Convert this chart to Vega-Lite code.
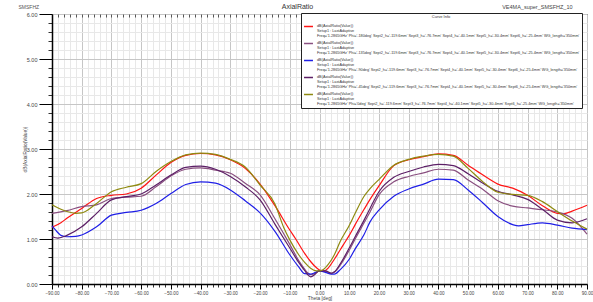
{
  "$schema": "https://vega.github.io/schema/vega-lite/v6.json",
  "width": 535,
  "height": 270,
  "autosize": {"type": "none"},
  "padding": {"left": 52, "top": 14, "right": 6, "bottom": 18},
  "background": "white",
  "config": {
    "view": {"stroke": "#000", "strokeWidth": 1},
    "font": "Liberation Sans",
    "axis": {"labelFont": "Liberation Sans", "titleFont": "Liberation Sans", "titleFontWeight": "normal", "labelColor": "#444", "titleColor": "#444", "tickColor": "#222", "domainColor": "#000"}
  },
  "data": {"values": [
    {"theta": -90, "ar": 1.26, "phi": "-180deg"}, {"theta": -87, "ar": 1.36, "phi": "-180deg"}, {"theta": -85, "ar": 1.46, "phi": "-180deg"}, {"theta": -80, "ar": 1.68, "phi": "-180deg"}, {"theta": -75, "ar": 1.9, "phi": "-180deg"}, {"theta": -70, "ar": 1.97, "phi": "-180deg"}, {"theta": -65, "ar": 2.0, "phi": "-180deg"}, {"theta": -60, "ar": 2.13, "phi": "-180deg"}, {"theta": -55, "ar": 2.42, "phi": "-180deg"}, {"theta": -50, "ar": 2.7, "phi": "-180deg"}, {"theta": -45, "ar": 2.86, "phi": "-180deg"}, {"theta": -40, "ar": 2.9, "phi": "-180deg"}, {"theta": -35, "ar": 2.87, "phi": "-180deg"}, {"theta": -30, "ar": 2.76, "phi": "-180deg"}, {"theta": -25, "ar": 2.57, "phi": "-180deg"}, {"theta": -20, "ar": 2.22, "phi": "-180deg"}, {"theta": -15, "ar": 1.74, "phi": "-180deg"}, {"theta": -10, "ar": 1.2, "phi": "-180deg"}, {"theta": -8, "ar": 1.0, "phi": "-180deg"}, {"theta": -5, "ar": 0.68, "phi": "-180deg"}, {"theta": -3, "ar": 0.5, "phi": "-180deg"}, {"theta": -1, "ar": 0.36, "phi": "-180deg"}, {"theta": 0, "ar": 0.31, "phi": "-180deg"}, {"theta": 1, "ar": 0.29, "phi": "-180deg"}, {"theta": 2, "ar": 0.3, "phi": "-180deg"}, {"theta": 3, "ar": 0.36, "phi": "-180deg"}, {"theta": 5, "ar": 0.55, "phi": "-180deg"}, {"theta": 8, "ar": 0.87, "phi": "-180deg"}, {"theta": 10, "ar": 1.08, "phi": "-180deg"}, {"theta": 12, "ar": 1.32, "phi": "-180deg"}, {"theta": 15, "ar": 1.66, "phi": "-180deg"}, {"theta": 17, "ar": 1.88, "phi": "-180deg"}, {"theta": 20, "ar": 2.18, "phi": "-180deg"}, {"theta": 25, "ar": 2.63, "phi": "-180deg"}, {"theta": 30, "ar": 2.76, "phi": "-180deg"}, {"theta": 35, "ar": 2.83, "phi": "-180deg"}, {"theta": 40, "ar": 2.89, "phi": "-180deg"}, {"theta": 45, "ar": 2.86, "phi": "-180deg"}, {"theta": 50, "ar": 2.64, "phi": "-180deg"}, {"theta": 55, "ar": 2.42, "phi": "-180deg"}, {"theta": 60, "ar": 2.22, "phi": "-180deg"}, {"theta": 65, "ar": 2.13, "phi": "-180deg"}, {"theta": 70, "ar": 1.97, "phi": "-180deg"}, {"theta": 75, "ar": 1.74, "phi": "-180deg"}, {"theta": 80, "ar": 1.57, "phi": "-180deg"}, {"theta": 82, "ar": 1.56, "phi": "-180deg"}, {"theta": 85, "ar": 1.62, "phi": "-180deg"}, {"theta": 90, "ar": 1.75, "phi": "-180deg"},

    {"theta": -90, "ar": 1.57, "phi": "-135deg"}, {"theta": -85, "ar": 1.63, "phi": "-135deg"}, {"theta": -80, "ar": 1.72, "phi": "-135deg"}, {"theta": -75, "ar": 1.76, "phi": "-135deg"}, {"theta": -70, "ar": 1.9, "phi": "-135deg"}, {"theta": -65, "ar": 1.93, "phi": "-135deg"}, {"theta": -60, "ar": 1.95, "phi": "-135deg"}, {"theta": -55, "ar": 2.16, "phi": "-135deg"}, {"theta": -50, "ar": 2.4, "phi": "-135deg"}, {"theta": -45, "ar": 2.55, "phi": "-135deg"}, {"theta": -40, "ar": 2.58, "phi": "-135deg"}, {"theta": -35, "ar": 2.53, "phi": "-135deg"}, {"theta": -30, "ar": 2.46, "phi": "-135deg"}, {"theta": -25, "ar": 2.24, "phi": "-135deg"}, {"theta": -20, "ar": 1.98, "phi": "-135deg"}, {"theta": -15, "ar": 1.45, "phi": "-135deg"}, {"theta": -10, "ar": 0.88, "phi": "-135deg"}, {"theta": -7, "ar": 0.52, "phi": "-135deg"}, {"theta": -5, "ar": 0.33, "phi": "-135deg"}, {"theta": -4, "ar": 0.25, "phi": "-135deg"}, {"theta": -3, "ar": 0.21, "phi": "-135deg"}, {"theta": -2, "ar": 0.22, "phi": "-135deg"}, {"theta": 0, "ar": 0.29, "phi": "-135deg"}, {"theta": 2, "ar": 0.28, "phi": "-135deg"}, {"theta": 4, "ar": 0.23, "phi": "-135deg"}, {"theta": 5, "ar": 0.26, "phi": "-135deg"}, {"theta": 7, "ar": 0.42, "phi": "-135deg"}, {"theta": 10, "ar": 0.75, "phi": "-135deg"}, {"theta": 12, "ar": 1.0, "phi": "-135deg"}, {"theta": 15, "ar": 1.36, "phi": "-135deg"}, {"theta": 17, "ar": 1.6, "phi": "-135deg"}, {"theta": 20, "ar": 1.98, "phi": "-135deg"}, {"theta": 25, "ar": 2.27, "phi": "-135deg"}, {"theta": 30, "ar": 2.39, "phi": "-135deg"}, {"theta": 35, "ar": 2.47, "phi": "-135deg"}, {"theta": 40, "ar": 2.55, "phi": "-135deg"}, {"theta": 45, "ar": 2.53, "phi": "-135deg"}, {"theta": 50, "ar": 2.31, "phi": "-135deg"}, {"theta": 55, "ar": 2.1, "phi": "-135deg"}, {"theta": 60, "ar": 1.85, "phi": "-135deg"}, {"theta": 65, "ar": 1.73, "phi": "-135deg"}, {"theta": 70, "ar": 1.69, "phi": "-135deg"}, {"theta": 75, "ar": 1.65, "phi": "-135deg"}, {"theta": 80, "ar": 1.6, "phi": "-135deg"}, {"theta": 85, "ar": 1.46, "phi": "-135deg"}, {"theta": 90, "ar": 1.11, "phi": "-135deg"},

    {"theta": -90, "ar": 1.29, "phi": "-90deg"}, {"theta": -88, "ar": 1.14, "phi": "-90deg"}, {"theta": -87, "ar": 1.08, "phi": "-90deg"}, {"theta": -85, "ar": 1.05, "phi": "-90deg"}, {"theta": -82, "ar": 1.06, "phi": "-90deg"}, {"theta": -80, "ar": 1.09, "phi": "-90deg"}, {"theta": -75, "ar": 1.27, "phi": "-90deg"}, {"theta": -70, "ar": 1.53, "phi": "-90deg"}, {"theta": -65, "ar": 1.59, "phi": "-90deg"}, {"theta": -60, "ar": 1.64, "phi": "-90deg"}, {"theta": -55, "ar": 1.79, "phi": "-90deg"}, {"theta": -50, "ar": 2.01, "phi": "-90deg"}, {"theta": -45, "ar": 2.21, "phi": "-90deg"}, {"theta": -40, "ar": 2.27, "phi": "-90deg"}, {"theta": -35, "ar": 2.24, "phi": "-90deg"}, {"theta": -30, "ar": 2.09, "phi": "-90deg"}, {"theta": -25, "ar": 1.85, "phi": "-90deg"}, {"theta": -20, "ar": 1.58, "phi": "-90deg"}, {"theta": -15, "ar": 1.17, "phi": "-90deg"}, {"theta": -10, "ar": 0.65, "phi": "-90deg"}, {"theta": -7, "ar": 0.38, "phi": "-90deg"}, {"theta": -5, "ar": 0.23, "phi": "-90deg"}, {"theta": -3, "ar": 0.22, "phi": "-90deg"}, {"theta": -2, "ar": 0.24, "phi": "-90deg"}, {"theta": 0, "ar": 0.29, "phi": "-90deg"}, {"theta": 2, "ar": 0.26, "phi": "-90deg"}, {"theta": 4, "ar": 0.22, "phi": "-90deg"}, {"theta": 5, "ar": 0.22, "phi": "-90deg"}, {"theta": 7, "ar": 0.32, "phi": "-90deg"}, {"theta": 10, "ar": 0.55, "phi": "-90deg"}, {"theta": 12, "ar": 0.78, "phi": "-90deg"}, {"theta": 15, "ar": 1.1, "phi": "-90deg"}, {"theta": 17, "ar": 1.38, "phi": "-90deg"}, {"theta": 20, "ar": 1.64, "phi": "-90deg"}, {"theta": 25, "ar": 1.95, "phi": "-90deg"}, {"theta": 30, "ar": 2.11, "phi": "-90deg"}, {"theta": 35, "ar": 2.22, "phi": "-90deg"}, {"theta": 40, "ar": 2.33, "phi": "-90deg"}, {"theta": 45, "ar": 2.32, "phi": "-90deg"}, {"theta": 50, "ar": 2.09, "phi": "-90deg"}, {"theta": 55, "ar": 1.8, "phi": "-90deg"}, {"theta": 60, "ar": 1.5, "phi": "-90deg"}, {"theta": 65, "ar": 1.32, "phi": "-90deg"}, {"theta": 67, "ar": 1.29, "phi": "-90deg"}, {"theta": 70, "ar": 1.32, "phi": "-90deg"}, {"theta": 75, "ar": 1.36, "phi": "-90deg"}, {"theta": 80, "ar": 1.31, "phi": "-90deg"}, {"theta": 85, "ar": 1.24, "phi": "-90deg"}, {"theta": 90, "ar": 1.21, "phi": "-90deg"},

    {"theta": -90, "ar": 1.05, "phi": "-45deg"}, {"theta": -88, "ar": 1.02, "phi": "-45deg"}, {"theta": -85, "ar": 1.08, "phi": "-45deg"}, {"theta": -80, "ar": 1.27, "phi": "-45deg"}, {"theta": -75, "ar": 1.57, "phi": "-45deg"}, {"theta": -70, "ar": 1.87, "phi": "-45deg"}, {"theta": -65, "ar": 1.94, "phi": "-45deg"}, {"theta": -60, "ar": 2.0, "phi": "-45deg"}, {"theta": -55, "ar": 2.2, "phi": "-45deg"}, {"theta": -50, "ar": 2.42, "phi": "-45deg"}, {"theta": -45, "ar": 2.59, "phi": "-45deg"}, {"theta": -40, "ar": 2.62, "phi": "-45deg"}, {"theta": -35, "ar": 2.55, "phi": "-45deg"}, {"theta": -30, "ar": 2.39, "phi": "-45deg"}, {"theta": -25, "ar": 2.16, "phi": "-45deg"}, {"theta": -20, "ar": 1.87, "phi": "-45deg"}, {"theta": -15, "ar": 1.33, "phi": "-45deg"}, {"theta": -10, "ar": 0.8, "phi": "-45deg"}, {"theta": -7, "ar": 0.48, "phi": "-45deg"}, {"theta": -5, "ar": 0.3, "phi": "-45deg"}, {"theta": -4, "ar": 0.21, "phi": "-45deg"}, {"theta": -3, "ar": 0.16, "phi": "-45deg"}, {"theta": -2, "ar": 0.19, "phi": "-45deg"}, {"theta": 0, "ar": 0.29, "phi": "-45deg"}, {"theta": 2, "ar": 0.29, "phi": "-45deg"}, {"theta": 4, "ar": 0.24, "phi": "-45deg"}, {"theta": 5, "ar": 0.27, "phi": "-45deg"}, {"theta": 7, "ar": 0.45, "phi": "-45deg"}, {"theta": 10, "ar": 0.8, "phi": "-45deg"}, {"theta": 12, "ar": 1.05, "phi": "-45deg"}, {"theta": 15, "ar": 1.42, "phi": "-45deg"}, {"theta": 17, "ar": 1.68, "phi": "-45deg"}, {"theta": 20, "ar": 2.05, "phi": "-45deg"}, {"theta": 25, "ar": 2.37, "phi": "-45deg"}, {"theta": 30, "ar": 2.5, "phi": "-45deg"}, {"theta": 35, "ar": 2.6, "phi": "-45deg"}, {"theta": 40, "ar": 2.66, "phi": "-45deg"}, {"theta": 45, "ar": 2.63, "phi": "-45deg"}, {"theta": 50, "ar": 2.45, "phi": "-45deg"}, {"theta": 55, "ar": 2.24, "phi": "-45deg"}, {"theta": 60, "ar": 2.06, "phi": "-45deg"}, {"theta": 65, "ar": 1.98, "phi": "-45deg"}, {"theta": 70, "ar": 1.88, "phi": "-45deg"}, {"theta": 75, "ar": 1.66, "phi": "-45deg"}, {"theta": 80, "ar": 1.42, "phi": "-45deg"}, {"theta": 85, "ar": 1.36, "phi": "-45deg"}, {"theta": 90, "ar": 1.45, "phi": "-45deg"},

    {"theta": -90, "ar": 1.76, "phi": "0deg"}, {"theta": -87, "ar": 1.66, "phi": "0deg"}, {"theta": -85, "ar": 1.61, "phi": "0deg"}, {"theta": -82, "ar": 1.57, "phi": "0deg"}, {"theta": -80, "ar": 1.58, "phi": "0deg"}, {"theta": -75, "ar": 1.79, "phi": "0deg"}, {"theta": -70, "ar": 2.05, "phi": "0deg"}, {"theta": -65, "ar": 2.15, "phi": "0deg"}, {"theta": -60, "ar": 2.23, "phi": "0deg"}, {"theta": -55, "ar": 2.5, "phi": "0deg"}, {"theta": -50, "ar": 2.72, "phi": "0deg"}, {"theta": -45, "ar": 2.87, "phi": "0deg"}, {"theta": -40, "ar": 2.91, "phi": "0deg"}, {"theta": -35, "ar": 2.88, "phi": "0deg"}, {"theta": -30, "ar": 2.77, "phi": "0deg"}, {"theta": -25, "ar": 2.6, "phi": "0deg"}, {"theta": -20, "ar": 2.2, "phi": "0deg"}, {"theta": -15, "ar": 1.78, "phi": "0deg"}, {"theta": -12, "ar": 1.25, "phi": "0deg"}, {"theta": -10, "ar": 0.98, "phi": "0deg"}, {"theta": -7, "ar": 0.65, "phi": "0deg"}, {"theta": -5, "ar": 0.48, "phi": "0deg"}, {"theta": -3, "ar": 0.35, "phi": "0deg"}, {"theta": -1, "ar": 0.29, "phi": "0deg"}, {"theta": 0, "ar": 0.29, "phi": "0deg"}, {"theta": 1, "ar": 0.31, "phi": "0deg"}, {"theta": 3, "ar": 0.44, "phi": "0deg"}, {"theta": 5, "ar": 0.65, "phi": "0deg"}, {"theta": 7, "ar": 0.95, "phi": "0deg"}, {"theta": 10, "ar": 1.3, "phi": "0deg"}, {"theta": 12, "ar": 1.57, "phi": "0deg"}, {"theta": 15, "ar": 1.95, "phi": "0deg"}, {"theta": 17, "ar": 2.12, "phi": "0deg"}, {"theta": 20, "ar": 2.32, "phi": "0deg"}, {"theta": 25, "ar": 2.64, "phi": "0deg"}, {"theta": 30, "ar": 2.77, "phi": "0deg"}, {"theta": 35, "ar": 2.84, "phi": "0deg"}, {"theta": 40, "ar": 2.88, "phi": "0deg"}, {"theta": 45, "ar": 2.84, "phi": "0deg"}, {"theta": 50, "ar": 2.57, "phi": "0deg"}, {"theta": 55, "ar": 2.27, "phi": "0deg"}, {"theta": 60, "ar": 2.04, "phi": "0deg"}, {"theta": 65, "ar": 1.99, "phi": "0deg"}, {"theta": 70, "ar": 1.97, "phi": "0deg"}, {"theta": 75, "ar": 1.83, "phi": "0deg"}, {"theta": 80, "ar": 1.61, "phi": "0deg"}, {"theta": 85, "ar": 1.4, "phi": "0deg"}, {"theta": 90, "ar": 1.22, "phi": "0deg"}
  ]},
  "layer": [
    {
      "mark": {"type": "point", "opacity": 0},
      "encoding": {
        "x": {"field": "theta", "type": "quantitative", "scale": {"domain": [-90, 90], "nice": false, "zero": false},
          "axis": {"orient": "bottom", "values": [-88,-86,-84,-82,-78,-76,-74,-72,-68,-66,-64,-62,-58,-56,-54,-52,-48,-46,-44,-42,-38,-36,-34,-32,-28,-26,-24,-22,-18,-16,-14,-12,-8,-6,-4,-2,2,4,6,8,12,14,16,18,22,24,26,28,32,34,36,38,42,44,46,48,52,54,56,58,62,64,66,68,72,74,76,78,82,84,86,88],
            "labels": false, "domain": false, "tickSize": 3, "tickColor": "#333", "grid": true, "gridColor": "#e8e8e8", "gridWidth": 1,
            "title": "AxialRatio", "titleX": 245, "titleY": -278, "titleAlign": "center", "titleBaseline": "middle", "titleFontSize": 7, "titleColor": "#333"}},
        "y": {"field": "ar", "type": "quantitative", "scale": {"domain": [0, 6], "nice": false, "zero": false},
          "axis": {"orient": "left", "values": [0.2,0.4,0.6,0.8,1.2,1.4,1.6,1.8,2.2,2.4,2.6,2.8,3.2,3.4,3.6,3.8,4.2,4.4,4.6,4.8,5.2,5.4,5.6,5.8],
            "labels": false, "domain": false, "tickSize": 4, "tickColor": "#333", "grid": true, "gridColor": "#e8e8e8", "gridWidth": 1,
            "title": "SMSFHZ", "titleAngle": 0, "titleX": -34, "titleY": -8, "titleAlign": "left", "titleBaseline": "middle", "titleFontSize": 5, "titleColor": "#555"}}
      }
    },
    {
      "mark": {"type": "point", "opacity": 0},
      "encoding": {
        "x": {"field": "theta", "type": "quantitative",
          "axis": {"orient": "top", "values": [-88,-86,-84,-82,-80,-78,-76,-74,-72,-70,-68,-66,-64,-62,-60,-58,-56,-54,-52,-50,-48,-46,-44,-42,-40,-38,-36,-34,-32,-30,-28,-26,-24,-22,-20,-18,-16,-14,-12,-10,-8,-6,-4,-2,0,2,4,6,8,10,12,14,16,18,20,22,24,26,28,30,32,34,36,38,40,42,44,46,48,50,52,54,56,58,60,62,64,66,68,70,72,74,76,78,80,82,84,86,88],
            "labels": false, "domain": false, "tickSize": -3, "tickColor": "#555", "grid": false,
            "title": "VE4MA_super_SMSFHZ_10", "titleX": 520, "titleY": -8, "titleAlign": "right", "titleBaseline": "middle", "titleFontSize": 5.5, "titleColor": "#444"}},
        "y": {"field": "ar", "type": "quantitative", "axis": null}
      }
    },
    {
      "mark": {"type": "line", "strokeWidth": 1.2, "interpolate": "monotone"},
      "encoding": {
        "x": {"field": "theta", "type": "quantitative",
          "axis": {"orient": "bottom", "values": [-90,-80,-70,-60,-50,-40,-30,-20,-10,0,10,20,30,40,50,60,70,80,90], "format": ".2f",
            "labelFontSize": 4.6, "labelPadding": 1, "tickSize": 5, "tickColor": "#000", "domainWidth": 1.5, "grid": true, "gridColor": "#c6c6c6", "gridWidth": 1,
            "title": "Theta [deg]", "titleFontSize": 4.8, "titlePadding": 1, "labelFlush": false}},
        "y": {"field": "ar", "type": "quantitative",
          "axis": {"orient": "left", "values": [0,1,2,3,4,5,6], "format": ".2f", "labelFontSize": 5.5, "labelPadding": 2, "tickSize": 13, "tickColor": "#000", "domainWidth": 1.5, "grid": true, "gridColor": "#c6c6c6", "gridWidth": 1,
            "title": "dB(AxialRatio(Value))", "titleFontSize": 4.8, "titleX": -25, "titleY": 135, "labelFlush": false}},
        "color": {"field": "phi", "type": "nominal",
          "scale": {"domain": ["-180deg", "-135deg", "-90deg", "-45deg", "0deg"], "range": ["#ff1414", "#8a5080", "#1f1fe6", "#5c1f66", "#8f8a10"]},
          "legend": {"orient": "none", "legendX": 249, "legendY": -1, "title": "Curve Info", "titleAnchor": "middle", "titleFontSize": 4, "titleFontWeight": "normal", "titleFont": "Liberation Sans", "titleColor": "#333", "titlePadding": 2,
            "labelFont": "Liberation Sans", "labelFontSize": 3.8, "labelColor": "#333", "labelLimit": 268, "labelBaseline": "top", "labelOffset": 3,
            "labelExpr": "['dB(AxialRatio(Value))', 'Setup1 : LastAdaptive', \"Freq='1.2865GHz' Phi='\" + datum.label + \"' Sept2_h='-119.6mm' Sept3_h='-76.7mm' Sept4_h='-40.1mm' Sept5_h='-30.4mm' Sept6_h='-25.4mm' WG_length='350mm'\"]",
            "symbolType": "stroke", "symbolStrokeWidth": 1.5, "symbolSize": 80, "strokeColor": "#222", "fillColor": "white", "padding": 2, "rowPadding": -2.5,
            "encode": {"labels": {"update": {"lineHeight": {"value": 4.9}, "dy": {"value": -2.5}}}}}}
      }
    }
  ],
  "resolve": {"axis": {"x": "independent", "y": "independent"}}
}
